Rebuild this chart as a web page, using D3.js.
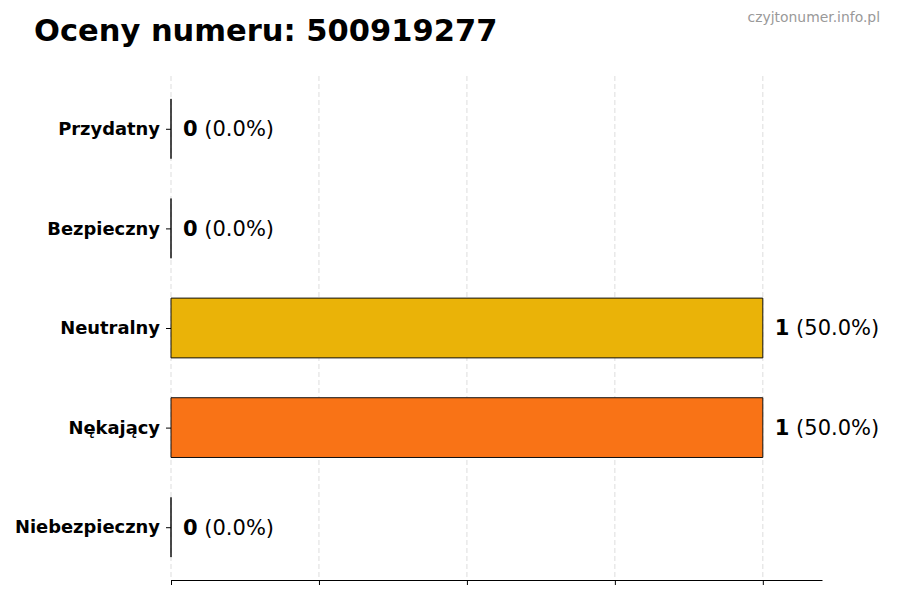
<!DOCTYPE html>
<html><head><meta charset="utf-8">
<script src="https://cdn.jsdelivr.net/npm/d3@7/dist/d3.min.js"></script>
<style>
body{margin:0;background:#fff;}
svg{display:block;font-family:"DejaVu Sans",sans-serif;}
</style></head>
<body>
<svg id="chart" width="900" height="600"></svg>
<script>
const categories = ["Przydatny","Bezpieczny","Neutralny","Nękający","Niebezpieczny"];
const values = [0,0,1,1,0];
const percents = ["0.0%","0.0%","50.0%","50.0%","0.0%"];
const colors = ["#22c55e","#3b82f6","#EAB308","#F97316","#dc2626"];
const xTicks = [0,0.25,0.5,0.75,1.0];
const titleText = "Oceny numeru: 500919277";
const watermark = "czyjtonumer.info.pl";

const svg = d3.select("#chart");
const L = 171, R = 822, T = 76, B = 580;
const n = categories.length;
const x = d3.scaleLinear().domain([0,1.1]).range([L,R]);
const y = d3.scaleLinear().domain([4.53,-0.53]).range([T,B]);
const bh = 0.6;

// grid
svg.append("g").selectAll("line").data(xTicks).join("line")
  .attr("x1",d=>x(d)).attr("x2",d=>x(d)).attr("y1",T).attr("y2",B)
  .attr("stroke","#d4d4d4").attr("stroke-width",0.8).attr("stroke-dasharray","5,3");

// bars (paths so zero-width bars still show their edge)
svg.append("g").selectAll("path").data(categories).join("path")
  .attr("d",(d,i)=>{
    const x0 = x(0), x1 = x(values[i]);
    const y0 = y(n-1-i+bh/2), y1 = y(n-1-i-bh/2);
    return `M${x0},${y0}H${x1}V${y1}H${x0}Z`;
  })
  .attr("fill",(d,i)=>colors[i])
  .attr("stroke","#111").attr("stroke-width",1);

// x axis
const xAxis = d3.axisBottom(x).tickValues(xTicks).tickFormat("").tickSize(5).tickSizeOuter(0);
const gx = svg.append("g").attr("transform",`translate(0,${B})`).call(xAxis);
gx.select(".domain").attr("stroke","#000").attr("stroke-width",1);
gx.selectAll(".tick line").attr("stroke","#000");

// y axis (ticks only, no spine)
const yAxis = d3.axisLeft(y).tickValues(d3.range(n)).tickFormat(v=>categories[n-1-v]).tickSize(5).tickPadding(6);
const gy = svg.append("g").attr("transform",`translate(${L},0)`).call(yAxis);
gy.select(".domain").remove();
gy.selectAll(".tick line").attr("stroke","#000");
gy.selectAll(".tick text").attr("font-family","DejaVu Sans").attr("font-size",17.9).attr("font-weight","bold").attr("fill","#000");

// value labels
const lab = svg.append("g").selectAll("text").data(categories).join("text")
  .attr("x",(d,i)=>x(values[i])+12)
  .attr("y",(d,i)=>y(n-1-i))
  .attr("dy","0.35em")
  .attr("font-size",21).attr("fill","#000");
lab.append("tspan").attr("font-weight","bold").text((d,i)=>values[i]);
lab.append("tspan").text((d,i)=>" ("+percents[i]+")");

// title
svg.append("text").attr("x",34).attr("y",41).attr("font-size",30.5).attr("font-weight","bold").attr("fill","#000").text(titleText);
svg.append("text").attr("x",880).attr("y",22).attr("text-anchor","end").attr("font-size",13.9).attr("fill","#999").text(watermark);
</script>
</body></html>
